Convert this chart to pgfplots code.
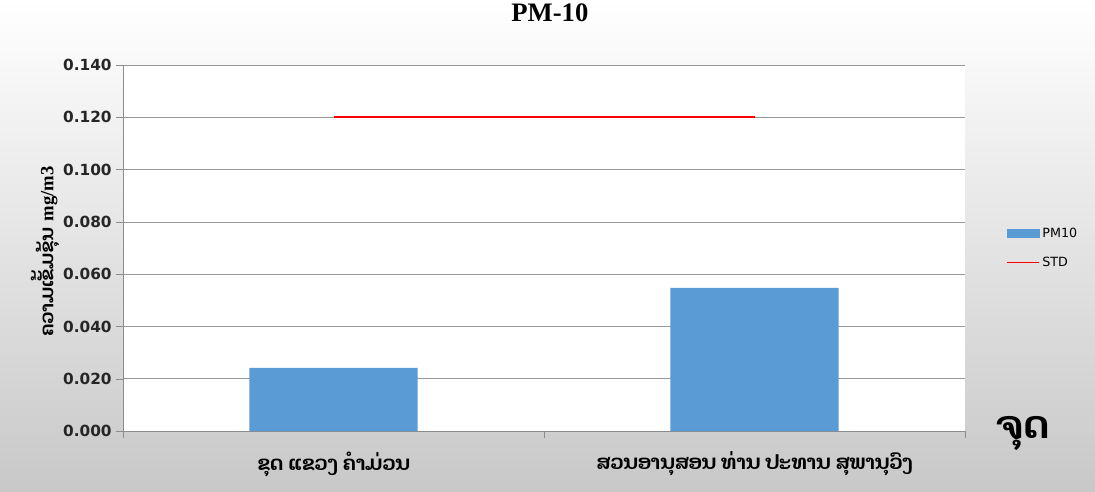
\documentclass[border=0pt]{standalone}
\usepackage{pgfplots}
\pgfplotsset{compat=1.18}
\usepackage{fontspec}
\setmainfont{DejaVu Sans}
\newfontfamily\laofont[Script=Lao]{Dhyana}
\newfontfamily\serifb{Liberation Serif}
\definecolor{barblue}{RGB}{91,155,213}
\definecolor{axgray}{RGB}{140,140,140}
\definecolor{bggray}{RGB}{200,200,200}
\definecolor{stdred}{RGB}{250,0,0}
\begin{document}
\begin{tikzpicture}[x=1pt,y=1pt]
\useasboundingbox (0,0) rectangle (821.25,369);
\shade[top color=white,bottom color=bggray] (0,0) rectangle (821.25,369);
\begin{axis}[
  at={(92.25pt,45.75pt)}, anchor=south west,
  scale only axis, width=631.5pt, height=274.5pt,
  xmin=-0.5, xmax=1.5, ymin=0, ymax=0.14,
  axis background/.style={fill=white},
  axis lines=left, axis line style={draw=axgray,-},
  ytick={0,0.02,0.04,0.06,0.08,0.10,0.12,0.14},
  yticklabel style={/pgf/number format/fixed,/pgf/number format/precision=3,/pgf/number format/fixed zerofill,/pgf/number format/assume math mode=true,font=\fontsize{11.5}{13}\selectfont\bfseries, color=black!85},
  ymajorgrids, grid style={draw=axgray!90},
  tick align=outside,
  major tick length=5pt,
  ytick style={draw=axgray},
  xtick={0,1},
  xticklabels={{\laofont\bfseries ຂຸດ ແຂວງ ຄຳມ່ວນ},{\laofont\bfseries ສວນອານຸສອນ ທ່ານ ປະທານ ສຸພານຸວົງ}},
  xticklabel style={font=\fontsize{15}{17}\selectfont, yshift=-7pt},
  major x tick style={draw=none},
  minor xtick={-0.5,0.5,1.5},
  minor x tick style={draw=axgray},
  minor tick length=5pt,
  ylabel={{\laofont\bfseries ຄວາມເຂັ້ມຂຸ້ນ} {\serifb\bfseries mg/m3}},
  ylabel style={at={(axis description cs:-0.0926,0.49)}, anchor=center, font=\fontsize{14}{16}\selectfont},
  title={\serifb\bfseries PM-10},
  title style={at={(axis description cs:0.507,1.122)}, anchor=center, font=\fontsize{20}{22}\selectfont},
  legend style={at={(axis description cs:1.047,0.5)}, anchor=west, draw=none, fill=none, font=\fontsize{9.5}{11}\selectfont, row sep=9pt, inner xsep=1pt},
  legend cell align=left,
  clip=false,
]
\addplot[ybar, bar width=0.4, fill=barblue, draw=none, forget plot]
  coordinates {(0,0.0241) (1,0.0547)};
\addplot[draw=stdred, color=stdred, line width=1.2pt, mark=none, forget plot]
  coordinates {(0,0.12) (1,0.12)};
\addlegendimage{legend image code/.code={\fill[barblue] (0pt,-3pt) rectangle (24pt,3pt);}}
\addlegendentry{PM10}
\addlegendimage{legend image code/.code={\draw[draw=stdred, line width=1.2pt] (0pt,0pt) -- (24pt,0pt);}}
\addlegendentry{STD}
\node[font=\laofont\bfseries\fontsize{29}{32}\selectfont] at (axis description cs:1.069,-0.007) {ຈຸດ};
\end{axis}
\end{tikzpicture}
\end{document}
